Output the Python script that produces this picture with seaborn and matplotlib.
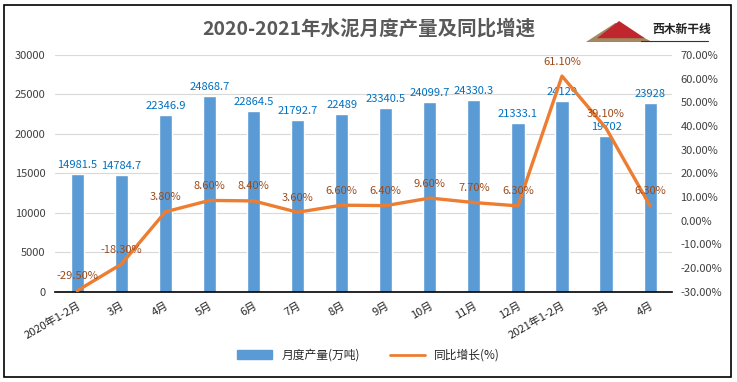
import numpy as np
import pandas as pd
import matplotlib
matplotlib.use("Agg")
import matplotlib.pyplot as plt
import matplotlib.patches as mpatches
from matplotlib.lines import Line2D
import seaborn as sns

months = ["2020年1-2月", "3月", "4月", "5月", "6月", "7月", "8月", "9月", "10月",
          "11月", "12月", "2021年1-2月", "3月", "4月"]
production = [14981.5, 14784.7, 22346.9, 24868.7, 22864.5, 21792.7, 22489, 23340.5,
              24099.7, 24330.3, 21333.1, 24129, 19702, 23928]
growth = [-29.5, -18.3, 3.8, 8.6, 8.4, 3.6, 6.6, 6.4, 9.6, 7.7, 6.3, 61.1, 39.1, 6.3]

sns.set_style("white")
plt.rcParams['font.family'] = ['Noto Sans CJK SC', 'DejaVu Sans']

BAR = "#5B9BD5"
LINE = "#ED7D31"

df = pd.DataFrame({"pos": np.arange(len(months)), "production": production, "growth": growth})

fig = plt.figure(figsize=(7.37, 3.82), dpi=100)
ax = fig.add_axes([0.075, 0.236, 0.837, 0.62])

sns.barplot(data=df, x="pos", y="production", color=BAR, width=0.3, ax=ax, saturation=1)
ax.set_ylim(0, 30000)
ax.set_yticks(np.arange(0, 30001, 5000))
ax.set_xlim(-0.5, len(months) - 0.5)
ax.yaxis.grid(True, color="#D9D9D9", lw=0.8)
ax.set_axisbelow(True)
for s in ["top", "right", "left"]:
    ax.spines[s].set_visible(False)
ax.spines["bottom"].set_color("black")
ax.spines["bottom"].set_linewidth(1.2)
ax.set_xlabel("")
ax.set_ylabel("")
ax.set_xticks(np.arange(len(months)))
ax.set_xticklabels(months, rotation=30, ha="right", rotation_mode="anchor", fontsize=8, color="#262626")
ax.tick_params(axis="y", labelsize=8, labelcolor="#404040", length=0, pad=7)
ax.tick_params(axis="x", length=0, pad=6)

for i, v in enumerate(production):
    ax.text(i, v + 500, f"{v:g}", ha="center", va="bottom", fontsize=8, color="#0070C0")

ax2 = ax.twinx()
sns.lineplot(data=df, x="pos", y="growth", color=LINE, lw=2.4, ax=ax2)
ax2.set_ylim(-30, 70)
ax2.set_yticks(np.arange(-30, 71, 10))
ax2.set_yticklabels([f"{t:.2f}%" for t in np.arange(-30, 71, 10)])
ax2.tick_params(axis="y", labelsize=8, labelcolor="#404040", length=0, pad=6)
ax2.set_xlabel("")
ax2.set_ylabel("")
for s in ax2.spines.values():
    s.set_visible(False)
for i, g in enumerate(growth):
    ax2.text(i, g + 4, f"{g:.2f}%", ha="center", va="bottom", fontsize=8, color="#9C4A1A")

fig.text(0.5, 0.925, "2020-2021年水泥月度产量及同比增速", ha="center", va="center",
         fontsize=14, fontweight="bold", color="#595959")

# logo
fig.text(0.925, 0.922, "西木新干线", ha="center", va="center", fontsize=8.5,
         fontweight="bold", style="italic", color="#222222")
fig.patches.append(mpatches.Polygon([[0.795, 0.89], [0.835, 0.94], [0.87, 0.905], [0.885, 0.89]],
                                    closed=True, transform=fig.transFigure,
                                    color="#8C6A3A", alpha=0.8, lw=0))
fig.patches.append(mpatches.Polygon([[0.81, 0.9], [0.84, 0.945], [0.875, 0.9]],
                                    closed=True, transform=fig.transFigure,
                                    color="#C0262D", lw=0))
fig.lines.append(Line2D([0.87, 0.96], [0.893, 0.893], transform=fig.transFigure,
                        color="#333333", lw=0.8))

handles = [mpatches.Patch(color=BAR, label="月度产量(万吨)"),
           Line2D([0], [0], color=LINE, lw=2, label="同比增长(%)")]
fig.legend(handles=handles, loc="center", bbox_to_anchor=(0.5, 0.07), ncol=2,
           frameon=False, fontsize=8.5, handlelength=3, columnspacing=2.5)

fig.patches.append(mpatches.Rectangle((0.006, 0.012), 0.986, 0.976, transform=fig.transFigure,
                                      fill=False, edgecolor="black", lw=1.2))

fig.savefig("out.png", dpi=100)
